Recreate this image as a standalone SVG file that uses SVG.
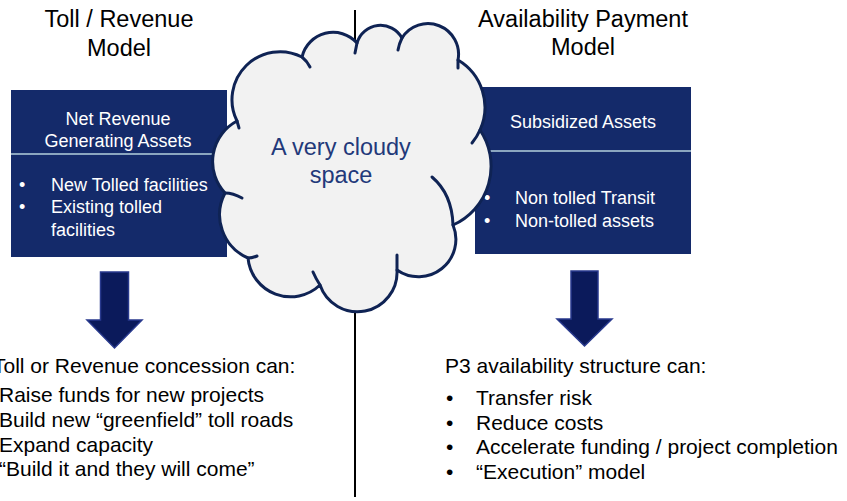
<svg xmlns="http://www.w3.org/2000/svg" width="847" height="501" viewBox="0 0 847 501">
<style>
.title{font-family:"Liberation Sans",Arial,sans-serif;font-size:23.5px;fill:#000;text-anchor:middle}
.box{fill:#142a6a}
.div{stroke:#8ba6bf;stroke-width:2}
.bt{font-family:"Liberation Sans",Arial,sans-serif;font-size:18px;fill:#fff}
.btc{font-family:"Liberation Sans",Arial,sans-serif;font-size:18px;fill:#fff;text-anchor:middle}
.arrow{fill:#0b1a5b;stroke:#28398d;stroke-width:1.5}
.body{font-family:"Liberation Sans",Arial,sans-serif;font-size:21px;fill:#000}
.cloud{fill:#f2f2f2;stroke:#0f2354;stroke-width:3;stroke-linejoin:round}
.tick{fill:none;stroke:#0f2354;stroke-width:3;stroke-linecap:round}
.ct{font-family:"Liberation Sans",Arial,sans-serif;font-size:23.5px;fill:#22397a;text-anchor:middle}
</style>
<rect width="847" height="501" fill="#fff"/>
<g id="title-left">
<text class="title" x="119" y="27">Toll / Revenue</text>
<text class="title" x="119" y="56">Model</text>
</g>
<g id="title-right">
<text class="title" x="583" y="27">Availability Payment</text>
<text class="title" x="583" y="55">Model</text>
</g>
<g id="box-left">
<rect class="box" x="11" y="90" width="216" height="167"/>
<line class="div" x1="11" y1="154" x2="227" y2="154"/>
<text class="btc" x="118" y="125">Net Revenue</text>
<text class="btc" x="118" y="147">Generating Assets</text>
<text class="bt" x="19" y="191">•</text>
<text class="bt" x="51" y="191">New Tolled facilities</text>
<text class="bt" x="19" y="213">•</text>
<text class="bt" x="51" y="213">Existing tolled</text>
<text class="bt" x="51" y="236">facilities</text>
</g>
<g id="box-right">
<rect class="box" x="475" y="87" width="216" height="167"/>
<line class="div" x1="475" y1="151" x2="691" y2="151"/>
<text class="btc" x="583" y="128">Subsidized Assets</text>
<text class="bt" x="484" y="204">•</text>
<text class="bt" x="515" y="204">Non tolled Transit</text>
<text class="bt" x="484" y="227">•</text>
<text class="bt" x="515" y="227">Non-tolled assets</text>
</g>
<g id="connectors">
<line x1="355" y1="10" x2="355" y2="497" stroke="#000" stroke-width="2"/>
<path class="arrow" d="M100.5,272 H128.5 V320 H142 L114.5,348 L87,320 H100.5 Z"/>
<path class="arrow" d="M571,271 H598 V319 H612 L584.5,346 L557,319 H571 Z"/>
</g>
<g id="cloud">
<path class="cloud" d="M237,121 A48,48 0 0 1 302,57 A32,32 0 0 1 357,43 A24.5,24.5 0 0 1 402,38 A30.6,30.6 0 0 1 458,60 A55,55 0 0 1 480,130 A64.5,64.5 0 0 1 453,225 A37.4,37.4 0 0 1 397,270 A39.6,39.6 0 0 1 320,285 A42.7,42.7 0 0 1 248,258 A47,47 0 0 1 225,193 A46,46 0 0 1 237,121 Z"/>
<path class="tick" d="M302,57 Q307,61 310,67"/>
<path class="tick" d="M357,43 Q356,48 355,53"/>
<path class="tick" d="M402,38 Q399,44 398,50"/>
<path class="tick" d="M458,60 L458,68"/>
<path class="tick" d="M480,130 Q477,137 472,143"/>
<path class="tick" d="M432,177 Q452,194 453,225"/>
<path class="tick" d="M397,255 L397,270"/>
<path class="tick" d="M313,272 Q316,279 320,285"/>
<path class="tick" d="M257,256 Q252,258 248,258"/>
<path class="tick" d="M242,198 Q233,193 225,193"/>
<path class="tick" d="M239,128 L237,121"/>
<text class="ct" x="341" y="155">A very cloudy</text>
<text class="ct" x="341" y="183">space</text>
</g>
<g id="text-left">
<text class="body" x="-7" y="373">Toll or Revenue concession can:</text>
<text class="body" x="-1" y="402">Raise funds for new projects</text>
<text class="body" x="-1" y="427">Build new “greenfield” toll roads</text>
<text class="body" x="-1" y="452">Expand capacity</text>
<text class="body" x="-1" y="476">“Build it and they will come”</text>
</g>
<g id="text-right">
<text class="body" x="445" y="373">P3 availability structure can:</text>
<text class="body" x="446" y="405">•</text>
<text class="body" x="476" y="405">Transfer risk</text>
<text class="body" x="446" y="429.5">•</text>
<text class="body" x="476" y="429.5">Reduce costs</text>
<text class="body" x="446" y="454">•</text>
<text class="body" x="476" y="454">Accelerate funding / project completion</text>
<text class="body" x="446" y="478.5">•</text>
<text class="body" x="476" y="478.5">“Execution” model</text>
</g>
</svg>
